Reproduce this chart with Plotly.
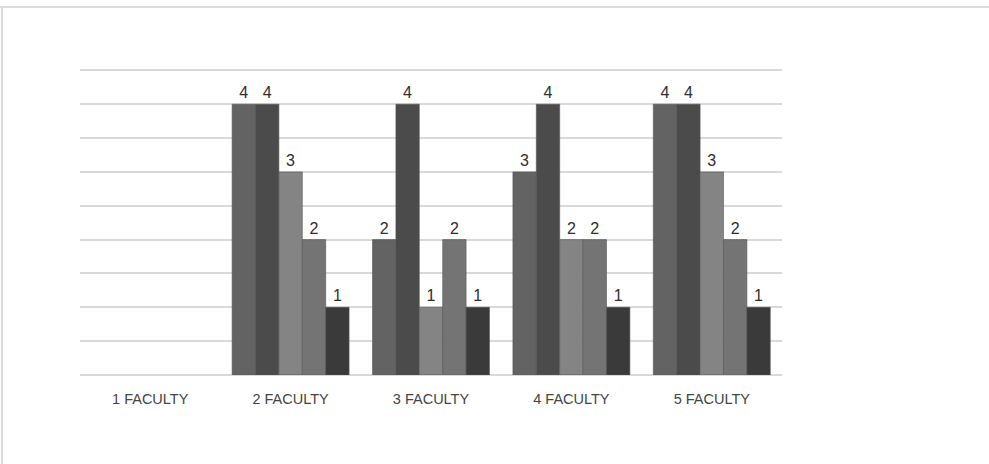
import plotly.graph_objects as go

# Categories and series values
categories = ["1 FACULTY", "2 FACULTY", "3 FACULTY", "4 FACULTY", "5 FACULTY"]
series_1 = [None, 4, 2, 3, 4]
series_2 = [None, 4, 4, 4, 4]
series_3 = [None, 3, 1, 2, 3]
series_4 = [None, 2, 2, 2, 2]
series_5 = [None, 1, 1, 1, 1]

series = [series_1, series_2, series_3, series_4, series_5]
colors = ["#636363", "#4b4b4b", "#848484", "#747474", "#3a3a3a"]

fig = go.Figure()
for vals, col in zip(series, colors):
    fig.add_trace(go.Bar(
        x=categories,
        y=vals,
        marker=dict(color=col, line=dict(color="#555555", width=0.6)),
        text=[("" if v is None else str(v)) for v in vals],
        textposition="outside",
        textfont=dict(family="Liberation Sans", size=16, color="#2e2e2e"),
        cliponaxis=False,
        showlegend=False,
    ))

fig.update_layout(
    width=989, height=464,
    margin=dict(l=80, r=207, t=67, b=89),
    paper_bgcolor="white",
    plot_bgcolor="white",
    barmode="group",
    bargap=0.167,
    bargroupgap=0,
    xaxis=dict(
        showgrid=False,
        showline=False,
        ticks="",
        tickfont=dict(family="Liberation Sans", size=14.5, color="#444444"),
        ticklabelstandoff=13,
    ),
    yaxis=dict(
        range=[0, 4.55],
        tick0=0,
        dtick=0.5,
        showticklabels=False,
        showgrid=True,
        gridcolor="#d9d9d9",
        gridwidth=1.5,
        zeroline=True,
        zerolinecolor="#d9d9d9",
        zerolinewidth=1.5,
        showline=False,
        ticks="",
    ),
    shapes=[
        # light frame along the top and left edges
        dict(type="line", xref="paper", yref="paper",
             x0=-0.12, x1=1.3, y0=1.1948, y1=1.1948,
             line=dict(color="#dcdcdc", width=2)),
        dict(type="line", xref="paper", yref="paper",
             x0=-0.1111, x1=-0.1111, y0=1.1948, y1=-0.3,
             line=dict(color="#dcdcdc", width=2)),
    ],
)

fig.write_html("out.html")
